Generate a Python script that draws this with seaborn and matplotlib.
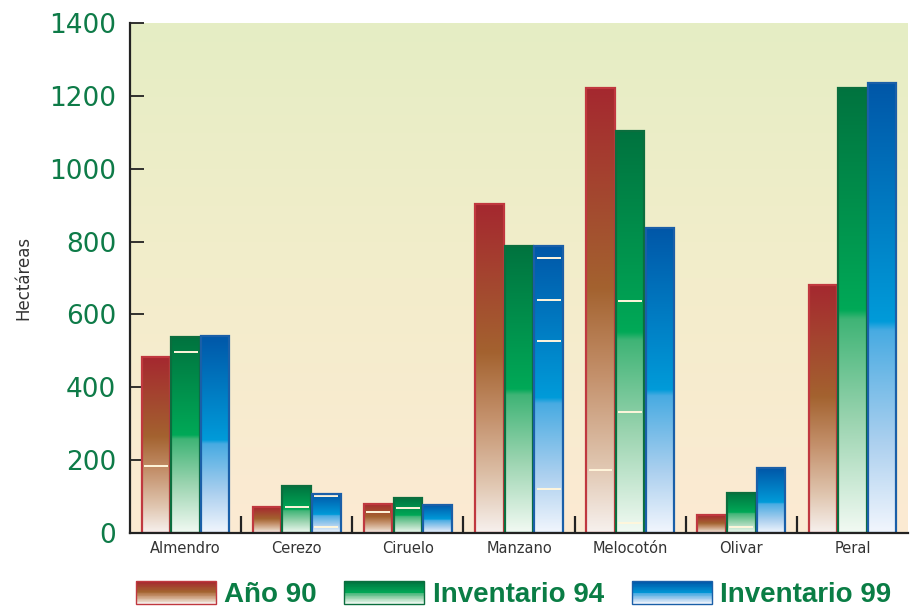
import numpy as np
import pandas as pd
import seaborn as sns
import matplotlib
matplotlib.use("Agg")
import matplotlib.pyplot as plt
from matplotlib.colors import LinearSegmentedColormap
from matplotlib.patches import Patch, Rectangle
from matplotlib.legend_handler import HandlerBase

# data (hectáreas)
cultivos = ["Almendro", "Cerezo", "Ciruelo", "Manzano", "Melocotón", "Olivar", "Peral"]
series = ["Año 90", "Inventario 94", "Inventario 99"]
ano_90 = [483, 71, 80, 903, 1222, 49, 681]
inv_94 = [538, 129, 96, 788, 1103, 110, 1222]
inv_99 = [541, 107, 77, 788, 837, 178, 1235]

# thin light divider lines seen inside some bars
lines_90 = [[184], [], [58], [], [173], [], []]
lines_94 = [[497], [71], [69], [], [637, 332, 27], [16], []]
lines_99 = [[], [102, 16], [], [755, 640, 527, 121], [], [], []]

yticks = [0, 200, 400, 600, 800, 1000, 1200, 1400]

df = pd.DataFrame({
    "cultivo": cultivos * 3,
    "serie": [s for s in series for _ in cultivos],
    "ha": ano_90 + inv_94 + inv_99,
})

# gradient colormaps (0 = bottom of bar, 1 = top)
cm_red = LinearSegmentedColormap.from_list("r", [
    (0.0, "#f7f1ee"), (0.15, "#e0c6b0"), (0.35, "#c4916c"),
    (0.55, "#a3622f"), (1.0, "#a5282f")])
cm_green = LinearSegmentedColormap.from_list("g", [
    (0.0, "#f2faf3"), (0.25, "#9bd4b0"), (0.48, "#3fb476"),
    (0.5, "#00a957"), (1.0, "#00733f")])
cm_blue = LinearSegmentedColormap.from_list("b", [
    (0.0, "#f2f6fd"), (0.2, "#acd0ef"), (0.45, "#48abe2"),
    (0.47, "#009bd9"), (1.0, "#0057a8")])
cmaps = [cm_red, cm_green, cm_blue]
edges = ["#c0383f", "#0b6e3e", "#1a5fa8"]
top_colors = ["#a5282f", "#00733f", "#0057a8"]
divider_lines = [lines_90, lines_94, lines_99]

fig = plt.figure(figsize=(9.12, 6.10), dpi=100)
ax = fig.add_axes([130 / 912, 1 - 533 / 610, 778 / 912, 510 / 610])

sns.barplot(data=df, x="cultivo", y="ha", hue="serie", order=cultivos,
            hue_order=series, palette=top_colors, width=0.8, gap=0.04,
            legend=False, ax=ax, zorder=2)

# background gradient
bg = LinearSegmentedColormap.from_list("bg", ["#fcead3", "#f3edcb", "#e5eec4"])
ax.imshow(np.linspace(0, 1, 256).reshape(-1, 1), cmap=bg, origin="lower",
          extent=[0, 1, 0, 1], transform=ax.transAxes, aspect="auto", zorder=0)

grad = np.linspace(0, 1, 256).reshape(-1, 1)
for k, cont in enumerate(ax.containers):
    for j, bar in enumerate(cont.patches):
        x, w, h = bar.get_x(), bar.get_width(), bar.get_height()
        bar.set_edgecolor(edges[k])
        bar.set_linewidth(1.6)
        bar.set_facecolor("none")
        bar.set_zorder(4)
        im = ax.imshow(grad, cmap=cmaps[k], origin="lower", aspect="auto",
                       extent=[x, x + w, 0, h], zorder=3, interpolation="bilinear")
        im.set_clip_path(bar)
        for v in divider_lines[k][j]:
            ax.hlines(v, x + w * 0.08, x + w * 0.92, color="#fff6dc", lw=1.4, zorder=3.5)

ax.set_xlim(-0.5, 6.5)
ax.set_ylim(0, 1400)
ax.set_yticks(yticks)
ax.set_yticklabels([str(t) for t in yticks])

for s in ["top", "right"]:
    ax.spines[s].set_visible(False)
for s in ["left", "bottom"]:
    ax.spines[s].set_color("#222222")
    ax.spines[s].set_linewidth(1.6)
    ax.spines[s].set_zorder(5)

ax.tick_params(axis="y", direction="in", length=10, width=1.3, color="#222222",
               labelsize=19, labelcolor="#0e7b48", pad=10)
ax.tick_params(axis="x", length=0, labelsize=10.5, labelcolor="#333333", pad=6)
ax.set_xticks(np.arange(0.5, 6.5, 1.0), minor=True)
ax.tick_params(axis="x", which="minor", direction="in", length=12, width=1.6,
               color="#222222")
ax.set_xlabel("")
ax.set_ylabel("Hectáreas", fontsize=12, color="#333333", labelpad=12)


class GradientHandler(HandlerBase):
    def __init__(self, cmap, edge):
        super().__init__()
        self.cmap = cmap
        self.edge = edge

    def create_artists(self, legend, orig_handle, xdescent, ydescent,
                       width, height, fontsize, trans):
        n = 30
        arts = []
        for i in range(n):
            arts.append(Rectangle((-xdescent, -ydescent + height * i / n), width,
                                  height / n * 1.05, facecolor=self.cmap(i / (n - 1)),
                                  edgecolor="none", transform=trans))
        arts.append(Rectangle((-xdescent, -ydescent), width, height, fill=False,
                              edgecolor=self.edge, lw=1.0, transform=trans))
        return arts


handles = [Patch(label=s) for s in series]
hmap = {h: GradientHandler(cmaps[i], edges[i]) for i, h in enumerate(handles)}
fs = 20
px = fs * 100 / 72
leg = fig.legend(handles=handles, labels=series, handler_map=hmap, loc="center",
                 bbox_to_anchor=(0.563, 0.025), ncol=3, frameon=False,
                 handlelength=80 / px, handleheight=24 / px,
                 handletextpad=0.3, columnspacing=1.0,
                 prop={"family": "Liberation Sans", "weight": "bold", "size": fs})
for t in leg.get_texts():
    t.set_color("#0a7d45")

fig.savefig("out.png", dpi=100)
